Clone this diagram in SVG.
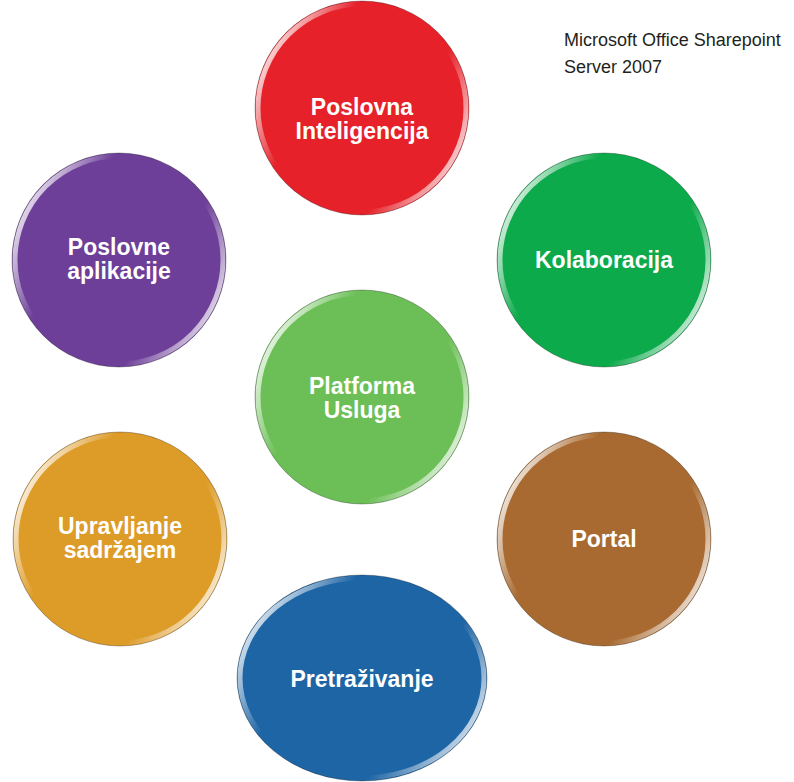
<svg xmlns="http://www.w3.org/2000/svg" width="794" height="782" viewBox="0 0 794 782">
<style>
.lbl{font-family:"Liberation Sans",Arial,sans-serif;font-weight:bold;font-size:23px;fill:#fff;text-anchor:middle}
.title{font-family:"Liberation Sans",Arial,sans-serif;font-size:18px;fill:#231f20}
.rim{fill:none;stroke:url(#rim);stroke-width:5}
.edge{fill:none;stroke:#000;stroke-opacity:0.28;stroke-width:1}
</style>
<defs>
<linearGradient id="rim" x1="0" y1="0.25" x2="1" y2="0.75">
<stop offset="0" stop-color="#fff" stop-opacity="0.9"/>
<stop offset="0.12" stop-color="#fff" stop-opacity="0.55"/>
<stop offset="0.28" stop-color="#fff" stop-opacity="0"/>
<stop offset="0.72" stop-color="#fff" stop-opacity="0"/>
<stop offset="0.88" stop-color="#fff" stop-opacity="0.5"/>
<stop offset="1" stop-color="#fff" stop-opacity="0.85"/>
</linearGradient>
</defs>
<rect width="794" height="782" fill="#fff"/>
<g id="title">
<text class="title" x="564" y="46">Microsoft Office Sharepoint</text>
<text class="title" x="564" y="73">Server 2007</text>
</g>
<g id="connectors"></g>
<g id="poslovna-inteligencija">
<circle cx="362" cy="108" r="107" fill="#e62129"/>
<circle cx="362" cy="108" r="104" class="rim"/>
<circle cx="362" cy="108" r="107" class="edge"/>
<text class="lbl" x="362" y="115">Poslovna</text>
<text class="lbl" x="362" y="139">Inteligencija</text>
</g>
<g id="kolaboracija">
<circle cx="604" cy="260" r="107" fill="#0daa4b"/>
<circle cx="604" cy="260" r="104" class="rim"/>
<circle cx="604" cy="260" r="107" class="edge"/>
<text class="lbl" x="604" y="268">Kolaboracija</text>
</g>
<g id="poslovne-aplikacije">
<circle cx="119" cy="260" r="107" fill="#6d3f98"/>
<circle cx="119" cy="260" r="104" class="rim"/>
<circle cx="119" cy="260" r="107" class="edge"/>
<text class="lbl" x="119" y="255">Poslovne</text>
<text class="lbl" x="119" y="279">aplikacije</text>
</g>
<g id="platforma-usluga">
<circle cx="362" cy="397" r="107" fill="#6cbf57"/>
<circle cx="362" cy="397" r="104" class="rim"/>
<circle cx="362" cy="397" r="107" class="edge"/>
<text class="lbl" x="362" y="394">Platforma</text>
<text class="lbl" x="362" y="418">Usluga</text>
</g>
<g id="upravljanje-sadrzajem">
<circle cx="120" cy="539" r="107" fill="#dd9b27"/>
<circle cx="120" cy="539" r="104" class="rim"/>
<circle cx="120" cy="539" r="107" class="edge"/>
<text class="lbl" x="120" y="534">Upravljanje</text>
<text class="lbl" x="120" y="558">sadržajem</text>
</g>
<g id="portal">
<circle cx="604" cy="539" r="107" fill="#a86a30"/>
<circle cx="604" cy="539" r="104" class="rim"/>
<circle cx="604" cy="539" r="107" class="edge"/>
<text class="lbl" x="604" y="547">Portal</text>
</g>
<g id="pretrazivanje">
<ellipse cx="362" cy="678" rx="125" ry="103" fill="#1e65a5"/>
<ellipse cx="362" cy="678" rx="122" ry="100" class="rim"/>
<ellipse cx="362" cy="678" rx="125" ry="103" class="edge"/>
<text class="lbl" x="362" y="687">Pretraživanje</text>
</g>
</svg>
